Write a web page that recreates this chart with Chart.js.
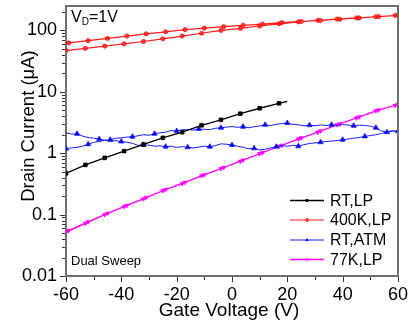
<!DOCTYPE html>
<html>
<head>
<meta charset="utf-8">
<script src="https://cdn.jsdelivr.net/npm/chart.js@4"></script>
<style>
  html, body { margin: 0; padding: 0; background: #fff; }
  canvas { display: block; }
</style>
</head>
<body>
<canvas id="chart" width="410" height="325"></canvas>
<script>
// gate voltage grid where the markers sit (dual sweep: forward then back)
const V_FWD = [-60, -53, -46, -39, -32, -25, -18, -11, -4, 3, 10, 17, 24, 31, 38, 45, 52, 59, 60];
const V_REV = [60, 53, 46, 39, 32, 25, 18, 11, 4, -3, -10, -17, -24, -31, -38, -45, -52, -59, -60];

// RT, LP (uA)
const RT_LP_V = [-60, -53, -46, -39, -32, -25, -18, -11, -4, 3, 10, 17, 20];
const RT_LP_I = [0.47, 0.645, 0.84, 1.08, 1.39, 1.78, 2.2, 2.85, 3.5, 4.4, 5.4, 6.5, 7.0];

// 400K, LP (uA)
const K400_FWD = [47, 51, 55.5, 60.5, 66, 73, 81, 90, 100, 108, 118, 128, 138, 146, 153, 160, 167, 175, 176];
const K400_REV = [176, 168, 160, 152, 145, 140, 134, 127, 121, 115, 109, 103, 95, 88, 81, 74, 68, 62.5, 62];

// 77K, LP (uA)
const K77_FWD = [0.052, 0.072, 0.10, 0.135, 0.18, 0.245, 0.32, 0.43, 0.56, 0.74, 0.98, 1.29, 1.7, 2.2, 2.9, 3.75, 4.9, 6.0, 6.2];
const K77_REV = [6.2, 5.05, 3.9, 3.0, 2.3, 1.77, 1.34, 1.02, 0.77, 0.585, 0.443, 0.336, 0.256, 0.19, 0.141, 0.105, 0.076, 0.055, 0.052];

// RT, ATM (uA) - noisy, read every 2 V
const ATM_V = [-60, -58, -56, -54, -52, -50, -48, -46, -44, -42, -40, -38, -36, -34, -32, -30, -28, -26, -24, -22,
  -20, -18, -16, -14, -12, -10, -8, -6, -4, -2, 0, 2, 4, 6, 8, 10, 12, 14, 16, 18,
  20, 22, 24, 26, 28, 30, 32, 34, 36, 38, 40, 42, 44, 46, 48, 50, 52, 54, 56, 58, 60];
const ATM_I_FWD = [1.18, 1.22, 1.25, 1.3, 1.4, 1.5, 1.55, 1.62, 1.66, 1.75,
  1.78, 1.83, 1.86, 1.92, 2.0, 1.96, 2.08, 2.15, 2.2, 2.34,
  2.3, 2.4, 2.43, 2.38, 2.48, 2.45, 2.42, 2.55, 2.6, 2.66,
  2.72, 2.64, 2.7, 2.6, 2.7, 2.78, 2.9, 2.82, 2.95, 3.05,
  3.1, 2.95, 2.9, 2.8, 2.86, 2.8, 2.88, 2.83, 2.9, 2.85,
  2.92, 2.88, 2.8, 2.86, 2.83, 2.75, 2.6, 2.3, 2.25, 2.32, 2.28];
// reverse sweep, listed from +60 V down to -60 V
const ATM_I_REV = [2.3, 2.28, 2.2, 2.1, 2.0, 1.94, 1.88, 1.8, 1.76, 1.7,
  1.66, 1.61, 1.58, 1.55, 1.51, 1.47, 1.44, 1.38, 1.3, 1.35,
  1.3, 1.33, 1.28, 1.22, 1.16, 1.13, 1.2, 1.18, 1.25, 1.3,
  1.36, 1.4, 1.42, 1.33, 1.28, 1.3, 1.26, 1.22, 1.25, 1.28,
  1.24, 1.3, 1.28, 1.32, 1.3, 1.35, 1.37, 1.34, 1.45, 1.51,
  1.55, 1.6, 1.58, 1.63, 1.7, 1.76, 1.8, 1.9, 2.07, 2.05, 2.15];

const X_TICK_LABELS = [-60, -40, -20, 0, 20, 40, 60];
const LEGEND = ["RT,LP", "400K,LP", "RT,ATM", "77K,LP"];

const FONT = "'Liberation Sans', Arial, sans-serif";

function pairs(xs, ys) {
  return xs.map((x, i) => ({ x: x, y: ys[i] }));
}

// marker on every n-th point, optionally not on the sweep's end point
function marks(n, r, every, offset, skipLast) {
  const out = [];
  for (let i = 0; i < n; i++) {
    out.push(i % every === offset && !(skipLast && i === n - 1) ? r : 0);
  }
  return out;
}

const atmRev = ATM_V.slice().reverse();

const datasets = [
  {
    label: LEGEND[0],
    data: pairs(RT_LP_V, RT_LP_I),
    borderColor: "#000",
    backgroundColor: "#000",
    borderWidth: 1.3,
    pointStyle: "rect",
    pointRadius: marks(RT_LP_V.length, 2.6, 1, 0, true),
  },
  {
    label: LEGEND[1],
    data: pairs(V_FWD, K400_FWD).concat(pairs(V_REV, K400_REV)),
    borderColor: "rgba(255,0,0,0.9)",
    backgroundColor: "rgba(255,40,40,0.85)",
    borderWidth: 1.2,
    pointStyle: "circle",
    pointRadius: marks(V_FWD.length, 2.1, 1, 0, true).concat(marks(V_REV.length, 2.1, 1, 0, true)),
  },
  {
    label: LEGEND[2],
    data: pairs(ATM_V, ATM_I_FWD).concat(pairs(atmRev, ATM_I_REV)),
    borderColor: "#1a1aff",
    backgroundColor: "#0000ff",
    borderWidth: 1,
    pointStyle: "triangle",
    pointRadius: marks(ATM_V.length, 3, 4, 0, false).concat(marks(atmRev.length, 3, 4, 2, false)),
  },
  {
    label: LEGEND[3],
    data: pairs(V_FWD, K77_FWD).concat(pairs(V_REV, K77_REV)),
    borderColor: "#ff00ff",
    backgroundColor: "#ff00ff",
    borderWidth: 1.3,
    pointStyle: "triangle",
    pointRotation: 180,
    pointRadius: marks(V_FWD.length, 2.4, 1, 0, true).concat(marks(V_REV.length, 2.4, 1, 0, true)),
  },
];

datasets.forEach((d) => {
  d.tension = 0;
  d.fill = false;
  d.pointBorderWidth = 0.8;
  d.pointHoverRadius = 0;
});

const AXIS_COLOR = "#6f6f6f";

// frame, ticks, titles, annotations and legend
const decor = {
  id: "decor",
  afterDraw(chart) {
    const ctx = chart.ctx;
    const a = chart.chartArea;
    const xs = chart.scales.x;
    const ys = chart.scales.y;
    ctx.save();

    // top and right frame
    ctx.strokeStyle = AXIS_COLOR;
    ctx.lineWidth = 2;
    ctx.beginPath();
    ctx.moveTo(a.left - 1, a.top);
    ctx.lineTo(a.right, a.top);
    ctx.lineTo(a.right, a.bottom + 1);
    ctx.stroke();

    // ticks: majors longer than minors, pointing out
    ctx.strokeStyle = "#333";
    ctx.lineWidth = 1;
    ctx.beginPath();
    xs.ticks.forEach((t) => {
      const px = Math.round(xs.getPixelForValue(t.value)) + 0.5;
      const len = t.value % 20 === 0 ? 5 : 3;
      ctx.moveTo(px, a.bottom + 1);
      ctx.lineTo(px, a.bottom + 1 + len);
    });
    ys.ticks.forEach((t) => {
      const m = t.value / Math.pow(10, Math.floor(Math.log10(t.value) + 1e-9));
      if (Math.abs(m - Math.round(m)) > 1e-6 || t.value > 240) return;
      const py = Math.round(ys.getPixelForValue(t.value)) + 0.5;
      const len = Math.round(m) === 1 ? 5 : 3;
      ctx.moveTo(a.left - 1, py);
      ctx.lineTo(a.left - 1 - len, py);
    });
    ctx.stroke();

    // axis titles
    ctx.fillStyle = "#000";
    ctx.font = "19px " + FONT;
    ctx.textAlign = "center";
    ctx.textBaseline = "alphabetic";
    ctx.fillText("Gate Voltage (V)", 229, 316);

    ctx.save();
    ctx.translate(34, 126);
    ctx.rotate(-Math.PI / 2);
    ctx.font = "18.5px " + FONT;
    ctx.fillText("Drain Current (\u03bcA)", 0, 0);
    ctx.restore();

    // V_D = 1V
    ctx.textAlign = "left";
    ctx.font = "16px " + FONT;
    ctx.fillText("V", 71, 22);
    let x = 71 + ctx.measureText("V").width;
    ctx.font = "10px " + FONT;
    ctx.fillText("D", x, 25);
    x += ctx.measureText("D").width;
    ctx.font = "16px " + FONT;
    ctx.fillText("=1V", x, 22);

    ctx.font = "13px " + FONT;
    ctx.fillText("Dual Sweep", 71, 265);

    // legend
    const rows = [200.5, 220, 240, 259.5];
    chart.data.datasets.forEach((d, i) => {
      const y = rows[i];
      ctx.strokeStyle = d.borderColor;
      ctx.lineWidth = d.borderWidth;
      ctx.beginPath();
      ctx.moveTo(290, y);
      ctx.lineTo(324, y);
      ctx.stroke();
      ctx.fillStyle = d.backgroundColor;
      Chart.helpers.drawPoint(ctx, {
        pointStyle: d.pointStyle,
        radius: 2,
        rotation: d.pointRotation || 0,
        borderWidth: 0,
      }, 307, y);
      ctx.fillStyle = "#000";
      ctx.font = "16px " + FONT;
      ctx.textBaseline = "middle";
      ctx.fillText(d.label, 330, y + 1);
      ctx.textBaseline = "alphabetic";
    });

    ctx.restore();
  },
};

new Chart(document.getElementById("chart"), {
  type: "line",
  data: { datasets: datasets },
  options: {
    responsive: false,
    animation: false,
    events: [],
    layout: { padding: { top: 6, right: 12, left: 0, bottom: 0 } },
    plugins: { legend: { display: false }, tooltip: { enabled: false } },
    scales: {
      x: {
        type: "linear",
        min: -60,
        max: 60,
        afterFit: (s) => {
          s.height = 49;
          s.paddingLeft = 0;
          s.paddingRight = 0;
        },
        ticks: {
          stepSize: 10,
          autoSkip: false,
          maxRotation: 0,
          padding: 3,
          color: "#000",
          font: { family: FONT, size: 18 },
          callback: (v) => (X_TICK_LABELS.includes(v) ? String(v) : ""),
        },
        grid: { drawOnChartArea: false, tickLength: 5, tickColor: "rgba(0,0,0,0)" },
        border: { color: AXIS_COLOR, width: 2 },
      },
      y: {
        type: "logarithmic",
        min: 0.01,
        max: 250,
        afterFit: (s) => {
          s.width = 66;
          s.paddingTop = 0;
          s.paddingBottom = 0;
        },
        ticks: {
          autoSkip: false,
          padding: 4,
          color: "#000",
          font: { family: FONT, size: 18 },
          callback: (v) => {
            const l = Math.log10(v);
            return Math.abs(l - Math.round(l)) < 1e-9 ? String(v) : "";
          },
        },
        grid: { drawOnChartArea: false, tickLength: 5, tickColor: "rgba(0,0,0,0)" },
        border: { color: AXIS_COLOR, width: 2 },
      },
    },
  },
  plugins: [decor],
});
</script>
</body>
</html>
